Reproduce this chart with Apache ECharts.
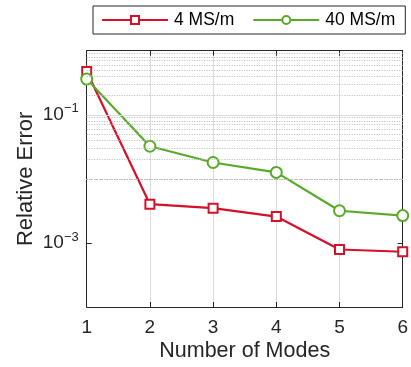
<!DOCTYPE html>
<html>
<head>
<meta charset="utf-8">
<script src="https://cdn.jsdelivr.net/npm/echarts@6/dist/echarts.min.js"></script>
<style>
  html, body { margin: 0; padding: 0; background: #fff; }
  #chart { width: 411px; height: 367px; }
</style>
</head>
<body>
<div id="chart"></div>
<script>
// Number of modes on the x axis
const modes = [1, 2, 3, 4, 5, 6];
// Relative error for each conductivity
const err4 = [0.473, 0.00402, 0.00349, 0.00258, 0.000789, 0.000728];
const err40 = [0.361, 0.0323, 0.0180, 0.0126, 0.00318, 0.00267];
const seriesNames = ['4 MS/m', '40 MS/m'];
// Labelled decades on the log axis
const yTickValues = [0.1, 0.001];

const FONT = '"Liberation Sans", Arial, sans-serif';
const INK = '#262626';
const RED = '#d4102b';
const GREEN = '#5aaa2a';

// Horizontal grid: solid at labelled decades, dotted everywhere else
const majorGrid = yTickValues.map(v => ({ yAxis: v }));
const minorGrid = [];
for (let e = -4; e <= -1; e++) {
  for (let m = 1; m <= 9; m++) {
    const v = m * Math.pow(10, e);
    if (m === 1 && yTickValues.some(t => Math.abs(t - v) < v * 1e-6)) continue;
    if (m === 1 && e === -4) continue;
    minorGrid.push({ yAxis: v });
  }
}

function pairs(ys) { return modes.map((x, i) => [x, ys[i]]); }

function supLabel(v) {
  const exp = Math.round(Math.log10(v));
  return '{b|10}{s|' + (exp < 0 ? '\u2212' + (-exp) : exp) + '}';
}

const chart = echarts.init(document.getElementById('chart'), null, { renderer: 'canvas' });
chart.setOption({
  animation: false,
  backgroundColor: '#fff',
  textStyle: { fontFamily: FONT, color: INK },
  grid: { left: 86.7, right: 6.7, top: 50.7, bottom: 56.3 },
  legend: {
    data: seriesNames,
    left: 93, top: 6,
    orient: 'horizontal',
    padding: [5, 10, 5, 8],
    itemGap: 18,
    itemWidth: 66,
    itemHeight: 10,
    borderColor: INK,
    borderWidth: 1,
    backgroundColor: '#fff',
    textStyle: { fontFamily: FONT, fontSize: 17.5, color: '#000', padding: [0, 0, 0, 1] }
  },
  xAxis: [{
    type: 'value',
    min: 1, max: 6, interval: 1,
    name: 'Number of Modes',
    nameLocation: 'middle',
    nameGap: 33,
    nameMoveOverlap: false,
    nameTextStyle: { fontFamily: FONT, fontSize: 21.5, color: INK },
    axisLine: { show: true, onZero: false, lineStyle: { color: INK, width: 1 } },
    axisTick: { show: true, inside: true, length: 5, lineStyle: { color: INK } },
    axisLabel: { fontFamily: FONT, fontSize: 19, color: INK, margin: 11 },
    splitLine: { show: true, lineStyle: { color: '#dcdcdc', width: 1 } }
  }, {
    type: 'value', position: 'top',
    min: 1, max: 6, interval: 1,
    axisLine: { show: true, onZero: false, lineStyle: { color: INK, width: 1 } },
    axisTick: { show: true, inside: true, length: 5, lineStyle: { color: INK } },
    axisLabel: { show: false },
    splitLine: { show: false }
  }],
  yAxis: [{
    type: 'log', logBase: 10,
    min: 1e-4, max: 1,
    name: 'Relative Error',
    nameLocation: 'middle',
    nameGap: 50,
    nameMoveOverlap: false,
    nameTextStyle: { fontFamily: FONT, fontSize: 22, color: INK },
    axisLine: { show: true, onZero: false, lineStyle: { color: INK, width: 1 } },
    axisTick: { show: true, inside: true, length: 5, customValues: yTickValues, lineStyle: { color: INK } },
    axisLabel: {
      customValues: yTickValues,
      margin: 8,
      formatter: v => supLabel(v),
      rich: {
        b: { fontFamily: FONT, fontSize: 19, color: INK },
        s: { fontFamily: FONT, fontSize: 13, color: INK, padding: [0, 0, 12, 0] }
      }
    },
    splitLine: { show: false }
  }, {
    type: 'log', logBase: 10,
    min: 1e-4, max: 1, position: 'right',
    axisLine: { show: true, onZero: false, lineStyle: { color: INK, width: 1 } },
    axisTick: { show: true, inside: true, length: 5, customValues: yTickValues, lineStyle: { color: INK } },
    axisLabel: { show: false },
    splitLine: { show: false }
  }],
  series: [{
    // grid lines drawn through the y axis scale
    type: 'line', data: [], silent: true, z: 1,
    markLine: {
      silent: true, symbol: 'none', label: { show: false },
      animation: false,
      lineStyle: { color: '#b9b9b9', type: [1, 1.5], width: 1 },
      data: minorGrid.concat(majorGrid.map(d => ({
        yAxis: d.yAxis, lineStyle: { color: '#dcdcdc', type: 'solid', width: 1 }
      })))
    }
  }, {
    name: seriesNames[0],
    type: 'line',
    data: pairs(err4),
    symbol: 'emptyRect',
    symbolSize: 9,
    z: 3,
    lineStyle: { color: RED, width: 2.2 },
    itemStyle: { color: RED, borderWidth: 1.5 }
  }, {
    name: seriesNames[1],
    type: 'line',
    data: pairs(err40),
    symbol: 'emptyCircle',
    symbolSize: 11,
    z: 4,
    lineStyle: { color: GREEN, width: 2.2 },
    itemStyle: { color: GREEN, borderWidth: 2 }
  }]
});
</script>
</body>
</html>
